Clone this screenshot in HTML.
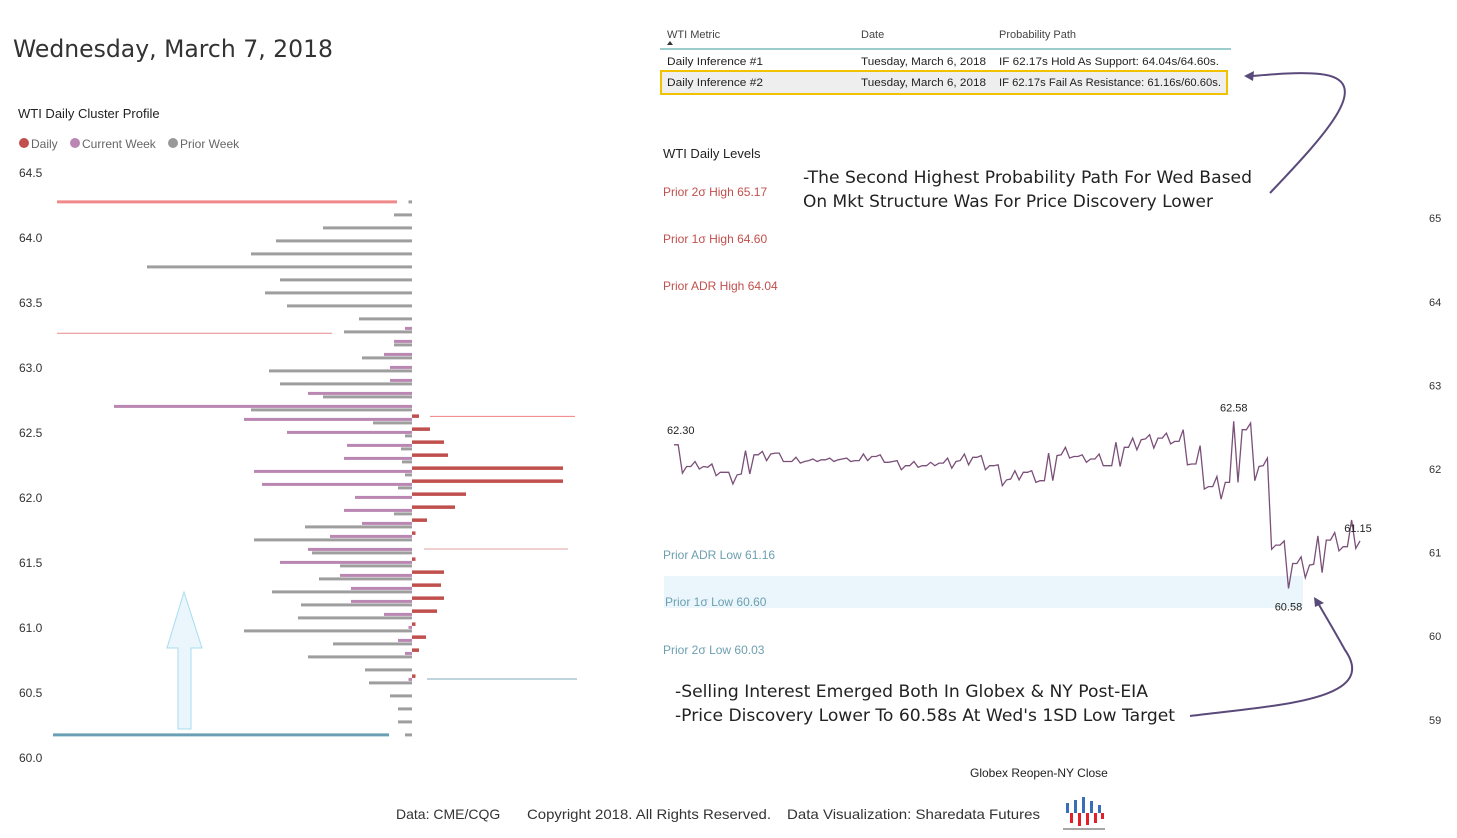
<!DOCTYPE html>
<html><head><meta charset="utf-8"><style>
html,body{margin:0;padding:0;background:#fff;}
svg{display:block;font-family:"Liberation Sans","DejaVu Sans",sans-serif;}
</style></head><body>
<svg id="root" width="1457" height="838" viewBox="0 0 1457 838" xmlns="http://www.w3.org/2000/svg">
<text x="13" y="57" font-family="DejaVu Sans, sans-serif" font-size="24" fill="#333" textLength="320" lengthAdjust="spacingAndGlyphs">Wednesday, March 7, 2018</text>
<text x="18" y="118" font-size="13" fill="#222">WTI Daily Cluster Profile</text>
<g>
<circle cx="24" cy="143" r="5" fill="#c0504d"/>
<text x="31" y="148" font-size="12" fill="#666">Daily</text>
<circle cx="75" cy="143" r="5" fill="#b987b2"/>
<text x="82" y="148" font-size="12" fill="#666">Current Week</text>
<circle cx="173" cy="143" r="5" fill="#999"/>
<text x="180" y="148" font-size="12" fill="#666">Prior Week</text>
</g>
<g id="profile"></g>
<path d="M178,729 L178,648 L167,648 L184,592 L202,648 L191,648 L191,729 Z" fill="#eaf6fc" stroke="#a8dcef" stroke-width="1"/>

<g>
<text x="667" y="38" font-size="11" fill="#444">WTI Metric</text>
<path d="M667,45 l3,-4 l3,4 z" fill="#333"/>
<text x="861" y="38" font-size="11" fill="#444">Date</text>
<text x="999" y="38" font-size="11" fill="#444">Probability Path</text>
<line x1="660" y1="49" x2="1231" y2="49" stroke="#3a9a9a" stroke-width="1"/>
<text x="667" y="65" font-size="11" fill="#222" textLength="96" lengthAdjust="spacingAndGlyphs">Daily Inference #1</text>
<text x="861" y="65" font-size="11" fill="#222" textLength="125" lengthAdjust="spacingAndGlyphs">Tuesday, March 6, 2018</text>
<text x="999" y="65" font-size="11" fill="#222" textLength="220" lengthAdjust="spacingAndGlyphs">IF 62.17s Hold As Support: 64.04s/64.60s.</text>
<rect x="661" y="71" width="566" height="23" fill="#eeeeee" stroke="#f2c200" stroke-width="2"/>
<text x="667" y="86" font-size="11" fill="#222" textLength="96" lengthAdjust="spacingAndGlyphs">Daily Inference #2</text>
<text x="861" y="86" font-size="11" fill="#222" textLength="125" lengthAdjust="spacingAndGlyphs">Tuesday, March 6, 2018</text>
<text x="999" y="86" font-size="11" fill="#222" textLength="222" lengthAdjust="spacingAndGlyphs">IF 62.17s Fail As Resistance: 61.16s/60.60s.</text>
</g>

<text x="663" y="158" font-size="13" fill="#222">WTI Daily Levels</text>
<rect x="664" y="576" width="639" height="32" fill="#eaf6fb"/>
<g font-size="12">
<text x="663" y="196" fill="#c0504d">Prior 2σ High 65.17</text>
<text x="663" y="243" fill="#c0504d">Prior 1σ High 64.60</text>
<text x="663" y="290" fill="#c0504d">Prior ADR High 64.04</text>
<text x="663" y="559" fill="#6d9fb0">Prior ADR Low 61.16</text>
<text x="665" y="606" fill="#6d9fb0">Prior 1σ Low 60.60</text>
<text x="663" y="654" fill="#6d9fb0">Prior 2σ Low 60.03</text>
</g>
<g id="linechart"></g>
<text x="970" y="777" font-size="12" fill="#222">Globex Reopen-NY Close</text>

<g font-family="DejaVu Sans, sans-serif" font-size="17" fill="#222">
<text x="803" y="183" textLength="449" lengthAdjust="spacingAndGlyphs">-The Second Highest Probability Path For Wed Based</text>
<text x="803" y="207" textLength="410" lengthAdjust="spacingAndGlyphs">On Mkt Structure Was For Price Discovery Lower</text>
<text x="675" y="697" textLength="473" lengthAdjust="spacingAndGlyphs">-Selling Interest Emerged Both In Globex &amp; NY Post-EIA</text>
<text x="675" y="721" textLength="500" lengthAdjust="spacingAndGlyphs">-Price Discovery Lower To 60.58s At Wed's 1SD Low Target</text>
</g>
<g fill="none" stroke="#5a4a7a" stroke-width="2">
<path d="M1270,193 C1330,130 1375,80 1320,74 C1300,72 1275,74 1252,76"/>
<path d="M1190,716 C1280,705 1380,700 1345,650 C1335,632 1326,617 1318,603"/>
</g>
<path d="M1244,76 l10,-5 l-1,10 z" fill="#5a4a7a"/>
<path d="M1314,597 l10,6 l-9,4 z" fill="#5a4a7a"/>

<g font-size="14" fill="#333">
<text x="396" y="819">Data: CME/CQG</text>
<text x="527" y="819" textLength="244" lengthAdjust="spacingAndGlyphs">Copyright 2018. All Rights Reserved.</text>
<text x="787" y="819" textLength="253" lengthAdjust="spacingAndGlyphs">Data Visualization: Sharedata Futures</text>
</g>
<g>
<rect x="1066" y="803" width="3" height="10" fill="#3a6fb5"/><rect x="1070" y="813" width="3" height="10" fill="#e0202a"/>
<rect x="1074" y="800" width="3" height="13" fill="#3a6fb5"/><rect x="1078" y="813" width="3" height="13" fill="#e0202a"/>
<rect x="1082" y="797" width="3" height="16" fill="#3a6fb5"/><rect x="1086" y="813" width="3" height="12" fill="#e0202a"/>
<rect x="1090" y="801" width="3" height="12" fill="#3a6fb5"/><rect x="1094" y="813" width="3" height="10" fill="#e0202a"/>
<rect x="1098" y="805" width="3" height="8" fill="#3a6fb5"/><rect x="1101" y="813" width="3" height="6" fill="#e0202a"/>
<line x1="1063" y1="829" x2="1105" y2="829" stroke="#888" stroke-width="1.5"/>
</g>
</svg>
<script>
// ---- Cluster profile data ----
const levels = [64.27,64.17,64.07,63.97,63.87,63.77,63.67,63.57,63.47,63.37,63.27,63.17,63.07,62.97,62.87,62.77,62.67,62.57,62.47,62.37,62.27,62.17,62.07,61.97,61.87,61.77,61.67,61.57,61.47,61.37,61.27,61.17,61.07,60.97,60.87,60.77,60.67,60.57,60.47,60.37,60.27,60.17];
const priorWeek = [3.5,18,89,136,161,265,132,147,125,53,68,18,50,143,132,89,161,39,7,11,10,7,14,0,18,107,158,100,72,93,140,111,114,168,79,104,47,43,22,14,14,7];
const currentWeek = [0,0,0,0,0,0,0,0,0,0,7,18,28,22,22,104,298,168,125,65,68,158,150,57,68,50,82,104,132,72,61,61,28,3.5,14,7,0,3.5,0,0,0,0];
const daily = [0,0,0,0,0,0,0,0,0,0,0,0,0,0,0,0,0,7,18,32,36,151,151,54,43,15,3.5,0,3.5,32,29,32,25,3.5,14,7,0,3.5,0,0,0,0];
const profileTicks = [64.5,64.0,63.5,63.0,62.5,62.0,61.5,61.0,60.5,60.0];
const refPrices = [64.27,63.26,62.62,61.60,60.60,60.17];
const refNames = ['ref-2sd-high','ref-1sd-high','ref-adr-high','ref-adr-low','ref-1sd-low','ref-2sd-low'];

// ---- Line chart data ----
const linePrices = [62.29,62.29,61.95,62.03,62.03,62.09,62.00,62.03,62.02,62.06,61.92,61.96,61.96,61.96,61.82,61.93,61.94,62.22,61.94,62.17,62.17,62.21,62.10,62.18,62.19,62.19,62.09,62.09,62.09,62.14,62.07,62.09,62.10,62.12,62.09,62.11,62.11,62.13,62.09,62.11,62.12,62.13,62.09,62.10,62.10,62.18,62.10,62.15,62.15,62.17,62.08,62.08,62.09,62.10,61.99,62.04,62.04,62.09,62.02,62.04,62.04,62.08,62.04,62.07,62.07,62.13,62.01,62.09,62.10,62.18,62.05,62.14,62.14,62.16,61.99,62.04,62.04,62.05,61.80,61.87,61.88,61.98,61.87,61.96,61.96,61.98,61.84,61.86,61.86,62.19,61.86,62.16,62.17,62.26,62.13,62.15,62.15,62.17,62.08,62.12,62.12,62.18,62.04,62.04,62.04,62.32,62.03,62.26,62.26,62.37,62.23,62.35,62.36,62.41,62.25,62.37,62.37,62.43,62.30,62.33,62.33,62.47,62.05,62.06,62.06,62.28,61.76,61.79,61.79,61.91,61.64,61.84,61.84,62.57,61.84,62.47,62.47,62.55,61.86,62.03,62.04,62.13,61.04,61.09,61.09,61.14,60.57,60.87,60.87,60.95,60.70,60.85,60.86,61.20,60.76,61.15,61.15,61.24,61.02,61.07,61.07,61.39,61.05,61.14];
const lineTicks = [65,64,63,62,61,60,59];
const labelTexts = ['62.30','62.58','60.58','61.15'];
const labelValues = [62.30,62.58,60.58,61.15];

const NS='http://www.w3.org/2000/svg';
function mk(tag,attrs,parent){const e=document.createElementNS(NS,tag);for(const k in attrs)e.setAttribute(k,attrs[k]);parent.appendChild(e);return e;}

const py = p => 172 + (64.5 - p) * 130;
const px0 = 412;
const pw = v => v;
const prof = document.getElementById('profile');
profileTicks.forEach(t=>{
  const e=mk('text',{x:19,y:py(t)+5,'font-size':12,fill:'#333'},prof);
  e.textContent=t.toFixed(1);
  
  
});
const refSpecs=[[57,397,3,'#f08a8a'],[57,332,1,'#e58a8a'],[430,575,1,'#f08080'],[424,568,1,'#e0a0a0'],[427,577,1,'#7fa9b8'],[53,389,3,'#6a9fb5']];
refPrices.forEach((p,i)=>{
  const s=refSpecs[i];
  const e=mk('line',{x1:s[0],x2:s[1],y1:py(p),y2:py(p),stroke:s[3],'stroke-width':s[2]},prof);
  
  
});
levels.forEach((p,i)=>{
  const y=py(p);
  if(priorWeek[i]>0){
    const e=mk('rect',{x:px0-pw(priorWeek[i]),y:y-1.5,width:pw(priorWeek[i]),height:3,fill:'#9e9e9e'},prof);
    
    
  }
  if(currentWeek[i]>0){
    const e=mk('rect',{x:px0-pw(currentWeek[i]),y:y-5,width:pw(currentWeek[i]),height:3,fill:'#b987b2'},prof);
    
    
  }
  if(daily[i]>0){
    const e=mk('rect',{x:px0,y:y-8.5,width:pw(daily[i]),height:3.5,fill:'#c0504d'},prof);
    
    
  }
});

const ly = p => 469 - (p - 62) * 83.6;
const lx = i => 674 + i * (1360 - 674) / (linePrices.length - 1);
const lc = document.getElementById('linechart');
lineTicks.forEach(t=>{
  const e=mk('text',{x:1429,y:ly(t)+4,'font-size':11,fill:'#333'},lc);
  e.textContent=String(t);
  
  
});
const d=linePrices.map((p,i)=>(i?'L':'M')+lx(i).toFixed(1)+','+ly(p).toFixed(1)).join(' ');
const path=mk('path',{d:d,fill:'none',stroke:'#7a4f78','stroke-width':1.3},lc);


// label anchors: first point, max, min, last
const maxV=Math.max(...linePrices), minV=Math.min(...linePrices);
const idx=[0, linePrices.indexOf(maxV), linePrices.indexOf(minV), linePrices.length-1];
labelTexts.forEach((t,k)=>{
  const i=idx[k];
  let x=lx(i), y;
  if(k===0){x=x-7;y=ly(linePrices[i])-11;}
  else if(k===1){y=ly(linePrices[i])-10;}
  else if(k===2){y=ly(linePrices[i])+22;}
  else {y=ly(labelValues[k])-8; x=x-2;}
  const e=mk('text',{x:x,y:y,'font-size':11,fill:'#222','text-anchor':k===0?'start':'middle'},lc);
  e.textContent=t;
  
  
});
</script>
</body></html>
